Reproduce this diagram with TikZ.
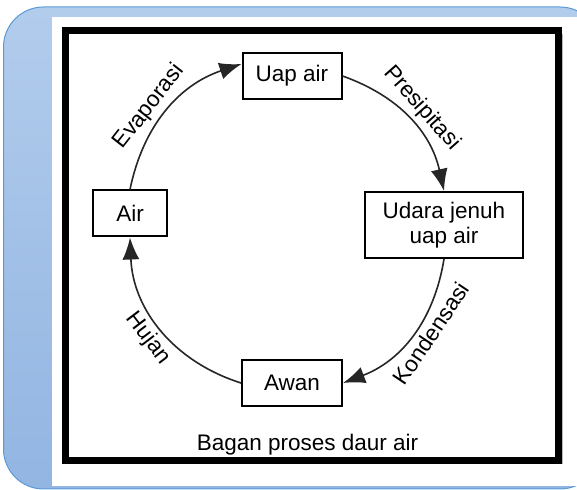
\documentclass[tikz,border=0pt]{standalone}
\usepackage{fontspec}
\setmainfont{Liberation Sans}
\usetikzlibrary{positioning,shapes,arrows.meta,backgrounds,calc,shadows}
\definecolor{panelblue}{HTML}{B2CCEC}
\definecolor{paneldark}{HTML}{92B5E2}
\definecolor{panelline}{HTML}{5B9BD5}
\tikzstyle{frame} = [rectangle, draw, line width=3.5pt, fill=white, %
   drop shadow={shadow xshift=2pt, shadow yshift=-2pt, opacity=0.4, fill=black!70}]
\tikzstyle{box} = [rectangle, draw, line width=1pt, fill=white, %
   text centered, minimum height=23pt, inner sep=2pt]
\tikzstyle{dummy} = []
\tikzstyle{line} = [draw, line width=0.8pt, black!85, -{Latex[length=11pt,width=8.5pt]}]
\tikzstyle{lbl} = [midway, sloped, text=black, inner sep=2.5pt]

\begin{document}
\begin{tikzpicture}[font=\fontsize{11.25}{12.5}\selectfont]
      \useasboundingbox (0,0) rectangle (288.5pt,-245pt);
      % Panel behind the picture
      \begin{scope}[on background layer]
         \path[draw=panelline, line width=0.5pt, top color=panelblue, bottom color=paneldark, %
            rounded corners=20pt] (1.75pt,-3.5pt) rectangle (300pt,-244.5pt);
         \fill[white] (26pt,-8.5pt) rectangle (300pt,-243pt);
      \end{scope}

   % Large Box %%%%%%%%%%%%%%%%%%%%%%%%%%%%%%%%%%%%%%%%%%%%%%%%%%%%%%%%%%%
      \node[frame, minimum width=246.5pt, minimum height=215pt](Daur) at (156pt,-122.75pt){};

      % Place nodes
      \node [dummy](dummy) at (146pt,-112.5pt){};

   % CYCLE %%%%%%%%%%%%%%%%%%%%%%%%%%%%%%%%%%%%%%%%%%%%%%%%%%%%%%%%%%%%%%%%
      \node[box, above of = dummy, node distance=74.5pt, minimum width=49.5pt](Uap){Uap air};

      \node[box, right of = dummy, node distance=76pt, minimum width=79pt, %
         minimum height=33pt, align=center](Udara){Udara jenuh\\uap air};

      \node[box, below of = dummy, node distance=79pt, minimum width=50pt](Awan){Awan};

      \node[box, left of = dummy, node distance=81pt, yshift=5.75pt, minimum width=37pt](Air){Air};

      \node[dummy, above=1pt of Daur.south, xshift=-2.25pt](Bagan){Bagan proses daur air};

      % Draw edges
      \path [line] (Air.north) to[bend left=30] node[lbl, above, pos=0.45]{Evaporasi} ([yshift=6pt]Uap.west);
      \path [line] (Uap.east) to[bend left=29] node[lbl, above]{Presipitasi} (Udara.north);
      \path [line] (Udara.south) to[bend left=30] node[lbl, below, pos=0.42]{Kondensasi} (Awan.east);
      \path [line] (Awan.west) to[bend left=35] node[lbl, below]{Hujan} (Air.south);

   \end{tikzpicture}
\end{document}
